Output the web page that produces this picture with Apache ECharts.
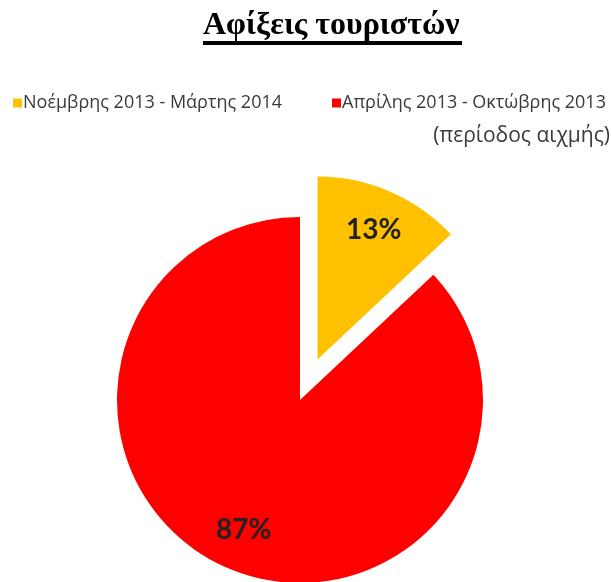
<!DOCTYPE html>
<html>
<head>
<meta charset="utf-8">
<title>Αφίξεις τουριστών</title>
<script src="https://cdn.jsdelivr.net/npm/echarts@6/dist/echarts.min.js"></script>
<style>
  html, body { margin: 0; padding: 0; background: #fff; }
  #main { width: 611px; height: 582px; }
</style>
</head>
<body>
<div id="main"></div>
<script>
// κατηγορίες και ποσοστά αφίξεων
const periods = ['Νοέμβρης 2013 - Μάρτης 2014', 'Απρίλης 2013 - Οκτώβρης 2013'];
const shares = [13, 87];
const peakNote = '(περίοδος αιχμής)';
const chartTitle = 'Αφίξεις τουριστών';

const sliceColors = ['#ffc000', '#ff0000'];
const legendFont = '"Open Sans", Lato, sans-serif';

const chart = echarts.init(document.getElementById('main'));

// γωνία μέσου κάθε κομματιού (από το 12 και δεξιόστροφα)
const total = shares.reduce((a, b) => a + b, 0);
function midAngle(i) {
  let before = 0;
  for (let k = 0; k < i; k++) before += shares[k];
  return ((before + shares[i] / 2) / total) * Math.PI * 2;
}

const legendText = { fontFamily: legendFont, fontSize: 18, color: '#3a3a3a', padding: [0, 0, 0, -4] };

const option = {
  animation: false,
  backgroundColor: '#fff',
  color: sliceColors,
  title: [
    {
      text: chartTitle,
      left: 203,
      top: 10,
      padding: 0,
      textStyle: {
        fontFamily: '"Liberation Serif", "Times New Roman", serif',
        fontWeight: 'bold',
        fontSize: 32,
        color: '#000'
      }
    },
    {
      text: peakNote,
      right: 1,
      top: 126,
      padding: 0,
      textStyle: {
        fontFamily: legendFont,
        fontWeight: 'normal',
        fontSize: 21,
        color: '#3a3a3a'
      }
    }
  ],
  graphic: [
    // υπογράμμιση τίτλου
    { type: 'rect', left: 203, top: 41, shape: { width: 259, height: 4 }, style: { fill: '#000' } }
  ],
  legend: [
    {
      data: [periods[0]],
      left: 13,
      top: 94,
      padding: 0,
      icon: 'rect',
      itemWidth: 9,
      itemHeight: 9,
      selectedMode: false,
      textStyle: legendText
    },
    {
      data: [periods[1]],
      left: 332,
      top: 94,
      padding: 0,
      icon: 'rect',
      itemWidth: 9,
      itemHeight: 9,
      selectedMode: false,
      textStyle: legendText
    }
  ],
  series: [
    {
      type: 'pie',
      center: [300, 400],
      radius: 183,
      startAngle: 90,
      clockwise: true,
      selectedMode: 'single',
      selectedOffset: 44,
      emphasis: { disabled: true },
      label: {
        show: true,
        position: 'inside',
        formatter: '{c}%',
        fontFamily: 'Lato, sans-serif',
        fontWeight: 'bold',
        fontSize: 28,
        color: '#222'
      },
      labelLine: { show: false },
      // τα ποσοστά είναι πιο έξω από τη μέση της ακτίνας
      labelLayout: function (p) {
        const a = midAngle(p.dataIndex);
        return { dx: Math.sin(a) * 47, dy: -Math.cos(a) * 47 };
      },
      data: periods.map((name, i) => ({
        name: name,
        value: shares[i],
        selected: i === 0
      }))
    }
  ]
};

chart.setOption(option);
</script>
</body>
</html>
